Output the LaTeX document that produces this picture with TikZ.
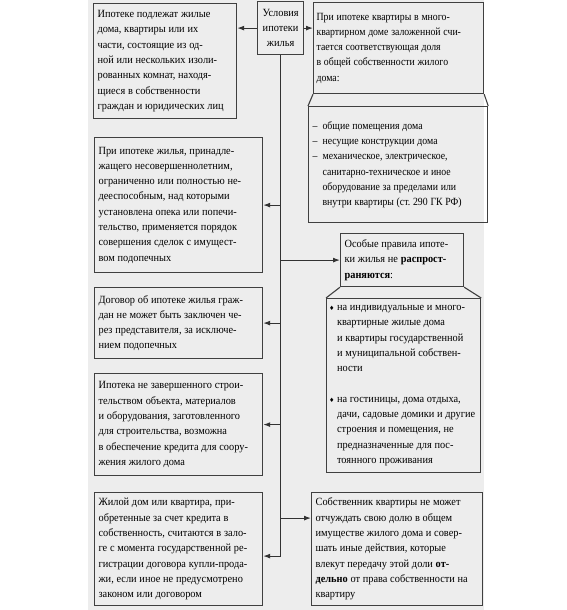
\documentclass[tikz,border=0pt]{standalone}
\usepackage{fontspec}
\setmainfont[FakeStretch=0.94]{Liberation Serif}
\newfontfamily\narrowfont[FakeStretch=0.89]{Liberation Serif}
\newfontfamily\symbfont{DejaVu Sans}
\usetikzlibrary{arrows.meta,calc}

\newcommand{\diabullet}{\makebox[8pt][l]{\symbfont\fontsize{6}{6}\selectfont ♦}}
\newcommand{\diaskip}{\hspace*{8pt}}
\newcommand{\dashitem}{\makebox[10pt][l]{–}}
\newcommand{\dashskip}{\hspace*{10pt}}
\newcommand{\nl}{\linebreak}
\newcommand{\tightspace}{\spaceskip=0.25em plus 0.05em minus 0.18em\relax}

\begin{document}
\begin{tikzpicture}[x=1pt, y=-1pt,
    box/.style={draw=black!75, line width=1.2pt, anchor=north west,
      inner xsep=3pt, inner ysep=2pt, align=flush left, text=black,
      font=\fontsize{11}{15.3}\selectfont, execute at begin node=\tightspace},
    narrow/.style={font=\narrowfont\fontsize{11}{15.3}\selectfont},
    arr/.style={-{Latex[length=7pt,width=5pt]}, line width=1.1pt, draw=black!80},
    link/.style={line width=1.1pt, draw=black!75}]
    \useasboundingbox (0,0) rectangle (566,610);

    % Background
    \fill[black!7] (88,0) rectangle (484,610);

    % Top
    \node[box, align=center, minimum width=46pt, minimum height=53pt,
      text width=40pt] (cond) at (257,1)
      {Условия\\ипотеки\\жилья};
    \node[box, minimum width=143pt, minimum height=115pt,
      text width=135pt, inner xsep=4pt] (own) at (93,3)
      {Ипотеке подлежат жилые\nl дома, квартиры или их\nl части, состоящие из од-\nl ной
       или нескольких изоли-\nl рованных комнат, находя-\nl щиеся в собственности\nl граждан
       и юридических лиц};
    \node[box, narrow, minimum width=170pt, minimum height=91pt, text width=164pt]
      (share) at (313,2)
      {При ипотеке квартиры в много-\nl квартирном доме заложенной счи-\nl тается
       соответствующая доля\nl в общей собственности жилого\nl дома:};
    \node[box, narrow, minimum width=179pt, minimum height=116pt, text width=171pt,
      inner xsep=4pt] (parts) at (308,106)
      {\dashitem общие помещения дома\nl\dashitem несущие конструкции дома\nl\dashitem механическое,
       электрическое,\nl\dashskip санитарно-техническое и иное\nl\dashskip оборудование
       за пределами или\nl\dashskip внутри квартиры (ст.~290 ГК РФ)};

    % Left column
    \node[box, minimum width=168pt, minimum height=135pt, text width=160pt,
      inner xsep=4pt] (minor) at (94,137)
      {При ипотеке жилья, принадле-\nl жащего несовершеннолетним,\nl ограниченно или
       полностью не-\nl дееспособным, над которыми\nl установлена опека или
       попечи-\nl тельство, применяется порядок\nl совершения сделок с
       имущест-\nl вом подопечных};
    \node[box, minimum width=168pt, minimum height=71pt, text width=160pt,
      inner xsep=4pt] (proxy) at (94,287)
      {Договор об ипотеке жилья граж-\nl дан не может быть заключен че-\nl рез
       представителя, за исключе-\nl нием подопечных};
    \node[box, minimum width=168pt, minimum height=102pt, text width=160pt,
      inner xsep=4pt] (build) at (94,373)
      {Ипотека не завершенного строи-\nl тельством объекта, материалов\nl и
       оборудования, заготовленного\nl для строительства, возможна\nl в обеспечение
       кредита для соору-\nl жения жилого дома};
    \node[box, minimum width=168pt, minimum height=113pt, text width=160pt,
      inner xsep=4pt] (credit) at (94,492)
      {Жилой дом или квартира, при-\nl обретенные за счет кредита в\nl собственность,
       считаются в зало-\nl ге с момента государственной ре-\nl гистрации договора
       купли-прода-\nl жи, если иное не предусмотрено\nl законом или договором};

    % Right column
    \node[box, minimum width=123pt, minimum height=53pt, text width=115pt,
      inner xsep=4pt] (special) at (340,233)
      {Особые правила ипоте-\nl ки жилья не \textbf{распрост-}\nl\textbf{раняются}:};
    \node[box, minimum width=154pt, minimum height=174pt, text width=149pt,
      inner xsep=2.5pt] (excl) at (326,298)
      {\diabullet на индивидуальные и много-\nl\diaskip квартирные жилые
       дома\nl\diaskip и квартиры государственной\nl\diaskip и муниципальной
       собствен-\nl\diaskip ности\\[15.3pt]\diabullet на гостиницы, дома
       отдыха,\nl\diaskip дачи, садовые домики и другие\nl\diaskip строения и
       помещения, не\nl\diaskip предназначенные для пос-\nl\diaskip тоянного
       проживания};
    \node[box, minimum width=171pt, minimum height=113pt, text width=163pt,
      inner xsep=4pt] (owner) at (311,492)
      {Собственник квартиры не может\nl отчуждать свою долю в общем\nl имуществе
       жилого дома и совер-\nl шать иные действия, которые\nl влекут передачу этой
       доли \textbf{от-}\nl\textbf{дельно} от права собственности на\nl квартиру};

    % Arrows
    \draw[arr] (cond.west) -- (cond.west -| own.east);
    \draw[arr] (cond.east) -- (cond.east -| share.west);
    \coordinate (cin) at ($(credit.east)+(0,7)$);
    \coordinate (oin) at ($(owner.west)+(0,-31)$);
    \draw[arr] (cond.south) |- (cin);
    \foreach \n in {minor, proxy, build}
      \draw[arr] (cond.south |- \n.east) -- (\n.east);
    \draw[arr] (cond.south |- special.west) -- (special.west);
    \draw[arr] (cond.south |- oin) -- (oin);

    % Links to lists
    \draw[link] (share.south west) -- (parts.north west)
      (share.south east) -- (parts.north east);
    \draw[link] (special.south west) -- (excl.north west)
      (special.south east) -- (excl.north east);
  \end{tikzpicture}
\end{document}
